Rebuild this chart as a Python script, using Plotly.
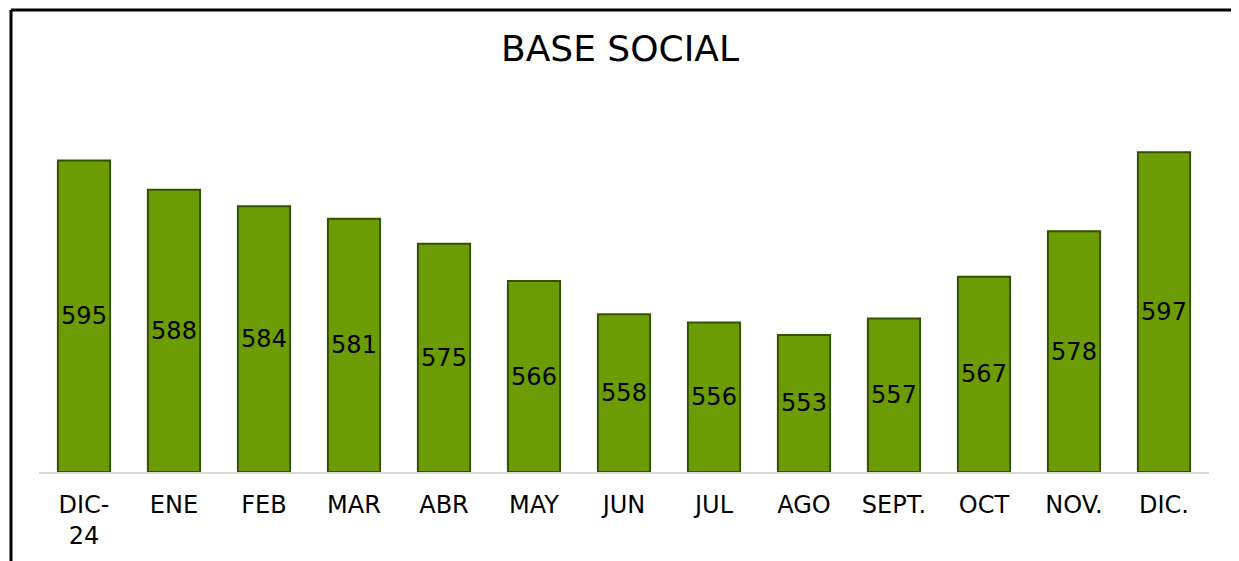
import plotly.graph_objects as go

meses = ["DIC-<br>24", "ENE", "FEB", "MAR", "ABR", "MAY", "JUN", "JUL",
         "AGO", "SEPT.", "OCT", "NOV.", "DIC."]
socios = [595, 588, 584, 581, 575, 566, 558, 556, 553, 557, 567, 578, 597]
base_eje = 520  # el eje vertical arranca en 520

fuente = "DejaVu Sans, sans-serif"

# las barras parten de la base del eje para que la etiqueta quede centrada
fig = go.Figure(go.Bar(
    x=meses, y=[v - base_eje for v in socios], base=base_eje, text=socios,
    textposition="inside", insidetextanchor="middle",
    textfont=dict(family=fuente, size=24, color="black"),
    marker=dict(color="#6b9c03", line=dict(color="#355200", width=2)),
))

# la página tiene 8px de margen en el body, se compensa aquí
fig.update_layout(
    width=1231, height=553,
    title=dict(text="BASE SOCIAL", x=(500 + 748) / 2 / 1239 - 8 / 1231, xanchor="center",
               y=1 - 40 / 553, yanchor="middle",
               font=dict(family=fuente, size=36, color="black")),
    margin=dict(l=31, r=30, t=92, b=89),
    bargap=0.42,
    plot_bgcolor="white", paper_bgcolor="white",
    showlegend=False,
    font=dict(family=fuente),
)
fig.update_xaxes(showline=True, linecolor="#d9d9d9", linewidth=2, ticks="",
                 ticklabelstandoff=10,
                 tickfont=dict(family=fuente, size=24, color="black"))
fig.update_yaxes(range=[base_eje, 609.6], visible=False, showgrid=False)

# marco: solo borde izquierdo y superior
fig.add_shape(type="line", xref="paper", yref="paper",
              x0=-28 / 1170, x1=1.05, y0=1 + 90 / 372, y1=1 + 90 / 372,
              line=dict(color="black", width=3))
fig.add_shape(type="line", xref="paper", yref="paper",
              x0=-28 / 1170, x1=-28 / 1170, y0=1 + 90 / 372, y1=-0.3,
              line=dict(color="black", width=3))

fig.write_html("out.html")
